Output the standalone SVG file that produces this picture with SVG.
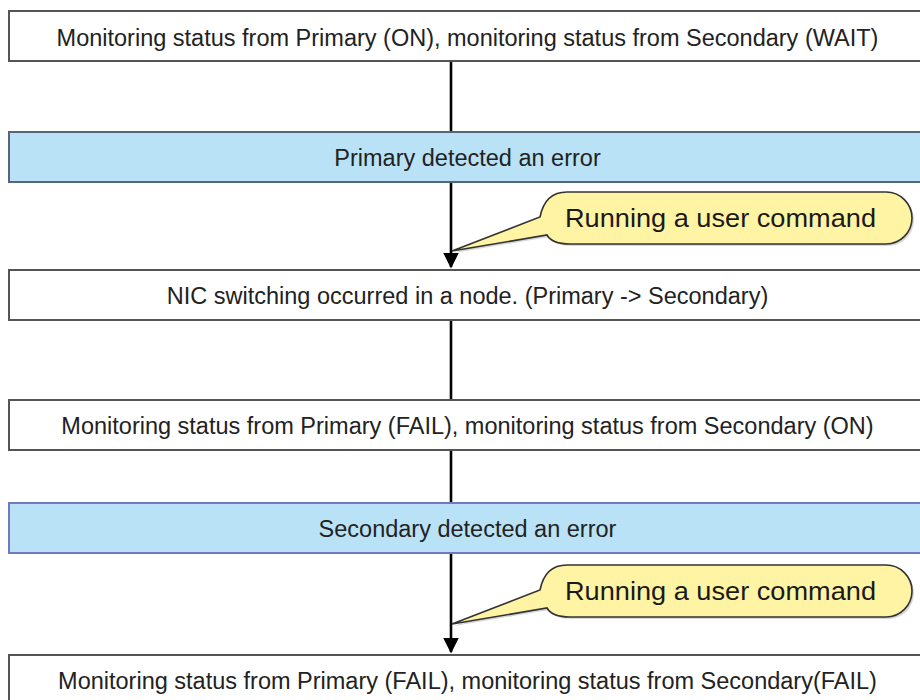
<svg xmlns="http://www.w3.org/2000/svg" width="920" height="700" viewBox="0 0 920 700">
<defs>
<style>
.box{fill:#ffffff;stroke:#555555;stroke-width:2}
.err{fill:#b9e2f6;stroke:#5a6478;stroke-width:2}
.err2{fill:#b9e2f6;stroke:#7478c0;stroke-width:2}
.t{font-family:"Liberation Sans",Arial,sans-serif;font-size:23.5px;fill:#222222;text-anchor:middle}
.ct{font-family:"Liberation Sans",Arial,sans-serif;font-size:25px;fill:#1a1a1a}
.line{stroke:#000000;stroke-width:2.6;fill:none}
.call{fill:#fff4a3;stroke:#333333;stroke-width:1.6}
.shadow{fill:#999999;opacity:0.4}
</style>
<marker id="arr" markerWidth="6" markerHeight="6" refX="5.4" refY="3" orient="auto" markerUnits="strokeWidth">
<path d="M0,0 L6,3 L0,6 Z" fill="#000000"/>
</marker>
</defs>
<rect width="920" height="700" fill="#ffffff"/>
<g id="connectors">
<line class="line" x1="451" y1="61" x2="451" y2="132"/>
<line class="line" x1="451" y1="182" x2="451" y2="267" marker-end="url(#arr)"/>
<line class="line" x1="451" y1="320" x2="451" y2="400"/>
<line class="line" x1="451" y1="450" x2="451" y2="503"/>
<line class="line" x1="451" y1="553" x2="451" y2="652" marker-end="url(#arr)"/>
</g>
<g id="n1"><rect class="box" x="9" y="11" width="917" height="50"/><text class="t" x="467.5" y="46">Monitoring status from Primary (ON), monitoring status from Secondary (WAIT)</text></g>
<g id="n2"><rect class="err" x="9" y="132" width="917" height="50"/><text class="t" x="467.5" y="166">Primary detected an error</text></g>
<g id="c1">
<path class="shadow" transform="translate(2,2)" d="M567,192 H886 A26,26 0 0 1 912,218 A26,26 0 0 1 886,244 H570 Q552,244 547,235 L452,251 L540,217 Q545,192 567,192 Z"/>
<path class="call" d="M567,192 H886 A26,26 0 0 1 912,218 A26,26 0 0 1 886,244 H570 Q552,244 547,235 L452,251 L540,217 Q545,192 567,192 Z"/>
<text class="ct" x="565" y="227" textLength="311" lengthAdjust="spacingAndGlyphs">Running a user command</text>
</g>
<g id="n3"><rect class="box" x="9" y="270" width="917" height="50"/><text class="t" x="467.5" y="304">NIC switching occurred in a node. (Primary -&gt; Secondary)</text></g>
<g id="n4"><rect class="box" x="9" y="400" width="917" height="50"/><text class="t" x="467.5" y="434">Monitoring status from Primary (FAIL), monitoring status from Secondary (ON)</text></g>
<g id="n5"><rect class="err2" x="9" y="503" width="917" height="50"/><text class="t" x="467.5" y="537">Secondary detected an error</text></g>
<g id="c2">
<path class="shadow" transform="translate(2,2)" d="M567,565 H886 A26,26 0 0 1 912,591 A26,26 0 0 1 886,617 H570 Q552,617 547,608 L452,624 L540,590 Q545,565 567,565 Z"/>
<path class="call" d="M567,565 H886 A26,26 0 0 1 912,591 A26,26 0 0 1 886,617 H570 Q552,617 547,608 L452,624 L540,590 Q545,565 567,565 Z"/>
<text class="ct" x="565" y="600" textLength="311" lengthAdjust="spacingAndGlyphs">Running a user command</text>
</g>
<g id="n6"><rect class="box" x="9" y="655" width="917" height="50"/><text class="t" x="467.5" y="689">Monitoring status from Primary (FAIL), monitoring status from Secondary(FAIL)</text></g>
</svg>
